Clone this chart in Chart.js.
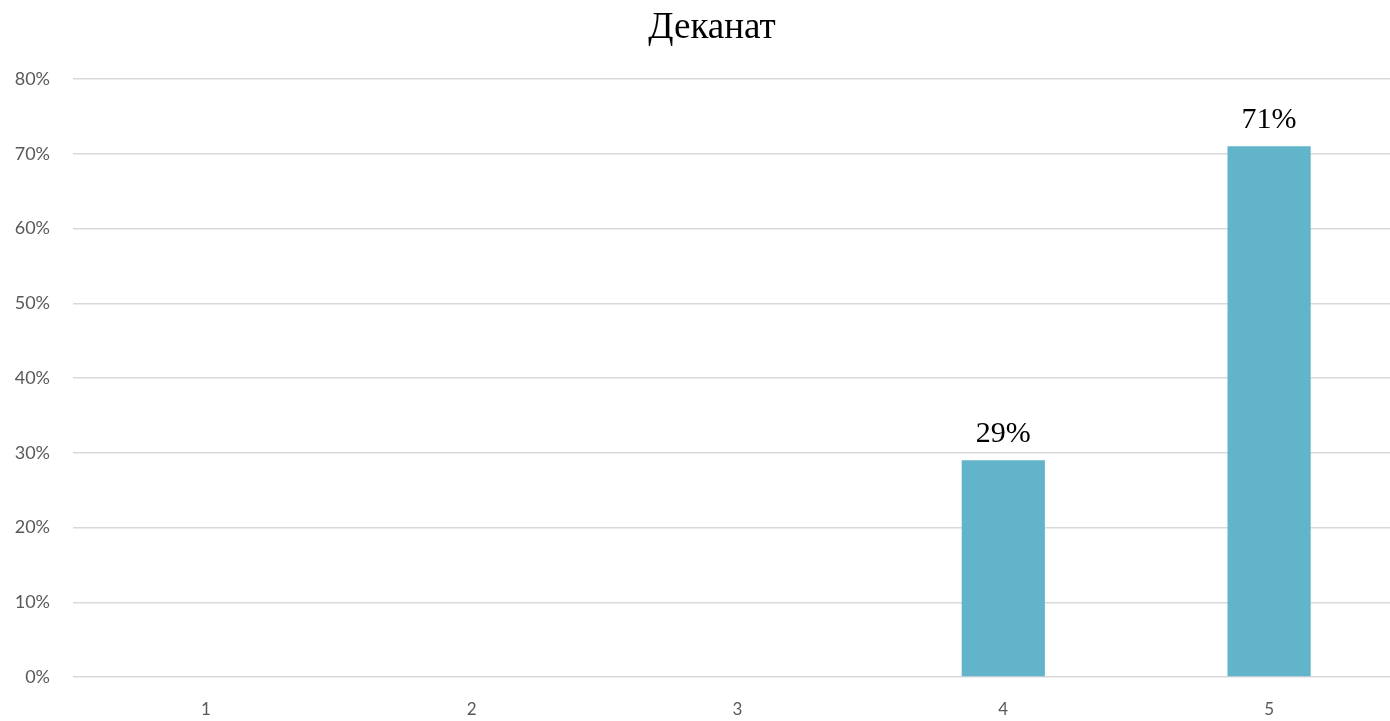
<!DOCTYPE html>
<html>
<head>
<meta charset="utf-8">
<script src="https://cdn.jsdelivr.net/npm/chart.js@4/dist/chart.umd.min.js"></script>
<style>
  html, body { margin: 0; padding: 0; overflow: hidden; background: #fff; }
  #wrap { width: 1402px; height: 721px; }
</style>
</head>
<body>
<div id="wrap"><canvas id="c"></canvas></div>
<script>
const titleText = 'Деканат';
const categories = ['1', '2', '3', '4', '5'];
const values = [0, 0, 0, 29, 71];
const yTicks = [0, 10, 20, 30, 40, 50, 60, 70, 80];

const serif = '"Liberation Serif", "Times New Roman", serif';

const titleAndLabels = {
  id: 'titleAndLabels',
  afterDraw(chart) {
    const ctx = chart.ctx;
    ctx.save();
    ctx.fillStyle = '#000';
    ctx.textAlign = 'center';
    ctx.textBaseline = 'alphabetic';
    ctx.font = '37px ' + serif;
    ctx.fillText(titleText, 712, 38);
    ctx.restore();
  },
  afterDatasetsDraw(chart) {
    const ctx = chart.ctx;
    const meta = chart.getDatasetMeta(0);
    ctx.save();
    ctx.font = '30px ' + serif;
    ctx.fillStyle = '#000';
    ctx.textAlign = 'center';
    ctx.textBaseline = 'middle';
    meta.data.forEach((bar, i) => {
      const v = values[i];
      if (v > 0) ctx.fillText(v + '%', bar.x, bar.y - 26);
    });
    ctx.restore();
  }
};

new Chart(document.getElementById('c'), {
  type: 'bar',
  data: {
    labels: categories,
    datasets: [{
      data: values,
      backgroundColor: '#62B4CB',
      barPercentage: 0.313,
      categoryPercentage: 1
    }]
  },
  options: {
    responsive: true,
    maintainAspectRatio: false,
    animation: false,
    layout: { padding: { left: 0, right: 0, top: 79, bottom: 0 } },
    plugins: {
      legend: { display: false },
      tooltip: { enabled: false },
      title: { display: false }
    },
    scales: {
      x: {
        grid: { display: false, drawTicks: false },
        border: { display: false },
        ticks: { color: '#595959', font: { family: 'Lato, "Open Sans", sans-serif', size: 17 }, padding: 22 },
        afterFit(scale) { scale.height = 44; }
      },
      y: {
        min: 0,
        max: 80,
        afterBuildTicks(scale) { scale.ticks = yTicks.map(v => ({ value: v })); },
        grid: { color: '#d9d9d9', lineWidth: 1.5, drawTicks: false },
        border: { display: false },
        ticks: {
          color: '#595959',
          font: { family: 'Lato, "Open Sans", sans-serif', size: 18 },
          padding: 23,
          callback: v => v + '%'
        },
        afterFit(scale) { scale.width = 73; }
      }
    }
  },
  plugins: [titleAndLabels]
});
</script>
</body>
</html>
